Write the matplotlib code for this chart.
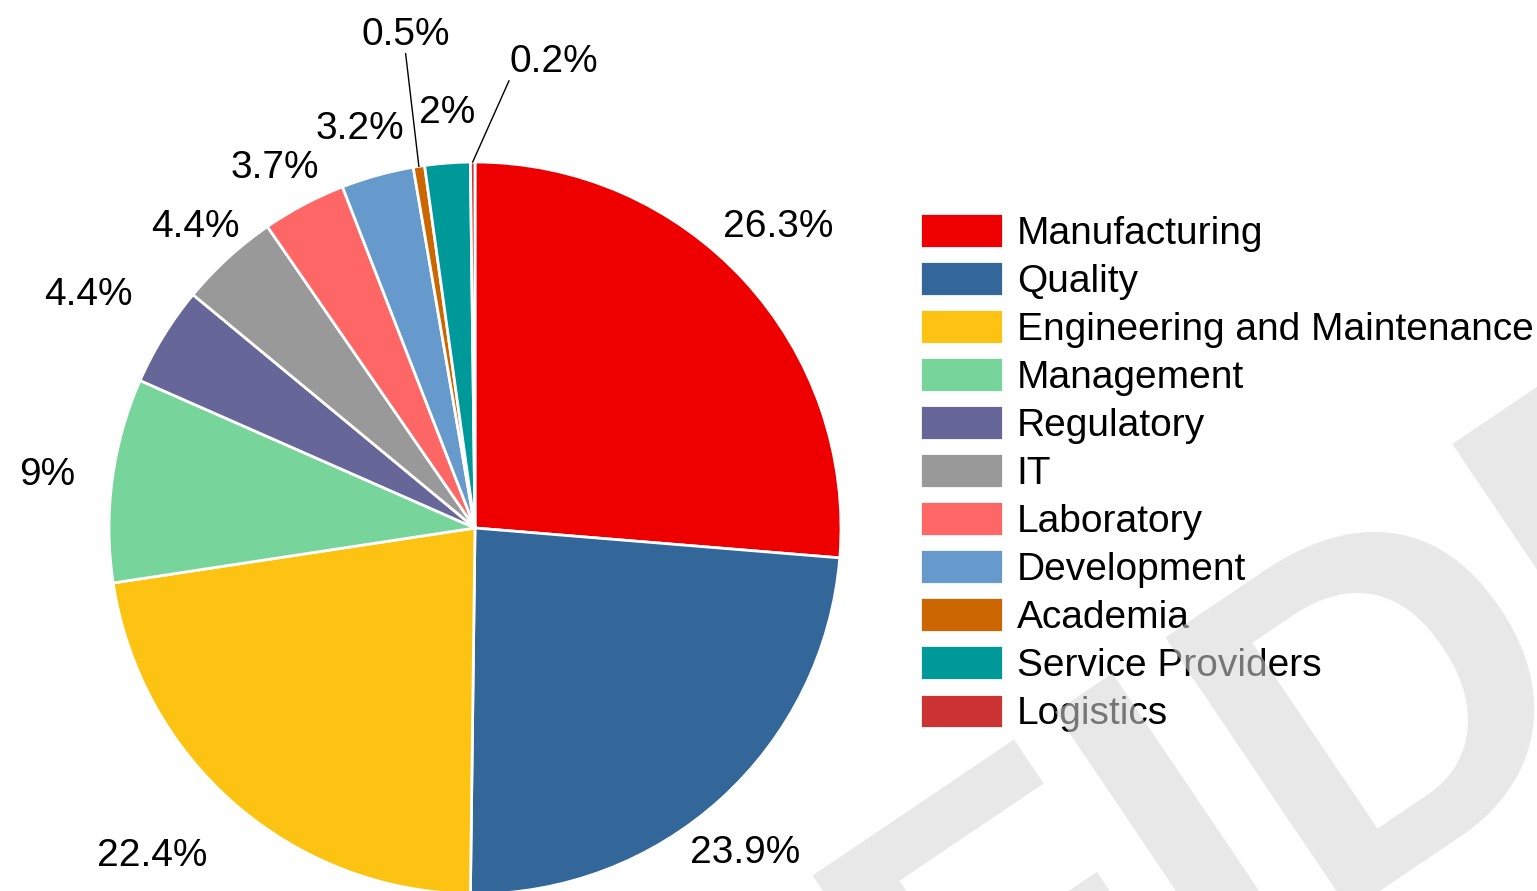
import numpy as np
import matplotlib.pyplot as plt

plt.rcParams['font.family'] = ['Liberation Sans', 'DejaVu Sans']

# data
categories = ["Manufacturing", "Quality", "Engineering and Maintenance", "Management",
              "Regulatory", "IT", "Laboratory", "Development", "Academia",
              "Service Providers", "Logistics"]
shares = [26.3, 23.9, 22.4, 9, 4.4, 4.4, 3.7, 3.2, 0.5, 2, 0.2]
colors = ["#ee0000", "#336699", "#fdc312", "#77d59b", "#666699", "#999999",
          "#ff6666", "#6699cc", "#cc6600", "#009999", "#cc3333"]

# label placement: (distance in radii, angle offset from slice middle), None -> leader line
label_pos = [(1.167, 2.2), (1.155, -2.6), (1.256, -3.5), (1.178, 0.5), (1.234, 0.6),
             (1.123, 0.45), (1.125, 1.15), (1.134, 0.6), None, (1.137, -0.46), None]

W, H = 1537, 891
fig = plt.figure(figsize=(W / 100, H / 100), dpi=100)
ax = fig.add_axes([0, 0, 1, 1])

cx, cy, R = 475, H - 528, 366
wedges, _ = ax.pie(shares, colors=colors, startangle=90, counterclock=False,
                   center=(cx, cy), radius=R,
                   wedgeprops=dict(edgecolor="white", linewidth=2))
ax.set_xlim(0, W)
ax.set_ylim(0, H)
ax.set_aspect("equal")
ax.axis("off")

fs = 28
for w, v, p in zip(wedges, shares, label_pos):
    if p is None:
        continue
    d, off = p
    ang = np.deg2rad((w.theta1 + w.theta2) / 2 + off)
    ax.text(cx + d * R * np.cos(ang), cy + d * R * np.sin(ang), f"{v:g}%",
            ha="center", va="center", fontsize=fs)

# small slices with leader lines
def leader(i, r_end, ang_end_off, ha, dx_txt, dy_txt):
    w = wedges[i]
    ang = np.deg2rad((w.theta1 + w.theta2) / 2)
    a2 = ang + np.deg2rad(ang_end_off)
    x0, y0 = cx + R * np.cos(ang), cy + R * np.sin(ang)
    x1, y1 = cx + r_end * R * np.cos(a2), cy + r_end * R * np.sin(a2)
    ax.plot([x0, x1], [y0, y1], color="black", lw=1)
    ax.text(x1 + dx_txt, y1 + dy_txt, f"{shares[i]:g}%", ha=ha, va="bottom", fontsize=fs)

leader(8, 1.31, -0.5, "center", 0, 1)
leader(10, 1.225, -4.7, "left", 1, 1)

fig.legend(wedges, categories, loc="upper left",
           bbox_to_anchor=(920 / W, 1 - 213 / H), bbox_transform=fig.transFigure,
           frameon=False, fontsize=fs, borderpad=0, borderaxespad=0,
           handlelength=2.13, handleheight=1.0, handletextpad=0.36, labelspacing=0.24)

# watermark, mostly outside the canvas
fig.text(86 / W, 1 - 1751 / H, "CONFIDENTIAL", rotation=34, rotation_mode="anchor",
         ha="left", va="baseline", fontsize=345, fontweight="bold",
         color=(214 / 255,) * 3, alpha=0.56, zorder=10)

fig.savefig("out.png", dpi=100)
